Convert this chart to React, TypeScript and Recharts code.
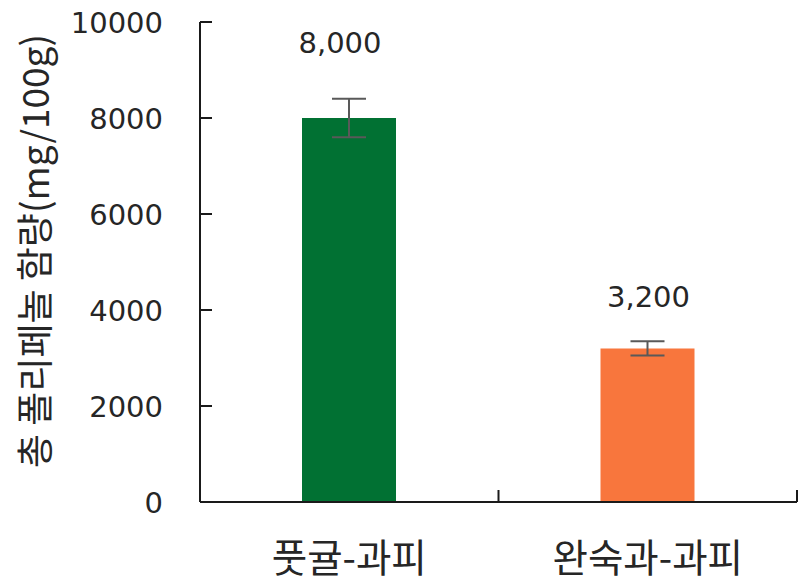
import React from "react";
import { BarChart, Bar, XAxis, YAxis, ErrorBar, LabelList, Cell } from "recharts";

const categories = ["풋귤-과피", "완숙과-과피"];
const values = [8000, 3200];
const errors = [400, 150];
const valueLabels = ["8,000", "3,200"];
const yTicks = [0, 2000, 4000, 6000, 8000, 10000];
const yTitle = "총 폴리페놀 함량(mg/100g)";
const colors = ["#017133", "#F8763D"];

const data = categories.map((name, i) => ({
  name,
  value: values[i],
  err: errors[i],
  label: valueLabels[i],
}));

const FONT = "'Noto Sans CJK KR', 'Noto Sans', sans-serif";
const NUMFONT = "'DejaVu Sans', sans-serif";
const AXIS = "#1a1a1a";
const TEXT = "#262626";

const YTick = (props: any) => {
  const { x, y, payload } = props;
  const axisX = x + 38;
  return (
    <g>
      <line x1={axisX} x2={axisX + 12} y1={y} y2={y} stroke={AXIS} strokeWidth={2} />
      <text x={x + 1} y={y} dy={11} textAnchor="end" fontSize={29} fill={TEXT} fontFamily={NUMFONT}>
        {payload.value}
      </text>
    </g>
  );
};

const XTick = (props: any) => {
  const { x, y, payload, index } = props;
  const band = 298.5;
  const axisY = y;
  return (
    <g>
      {index === 0 && (
        <line x1={x - band / 2} x2={x - band / 2} y1={axisY} y2={axisY - 12} stroke={AXIS} strokeWidth={2} />
      )}
      <line x1={x + band / 2} x2={x + band / 2} y1={axisY} y2={axisY - 12} stroke={AXIS} strokeWidth={2} />
      <text x={x} y={axisY + 70} textAnchor="middle" fontSize={38.5} fill={TEXT} fontFamily={FONT}>
        {payload.value}
      </text>
    </g>
  );
};

const ValueLabel = (props: any) => {
  const { x, y, width, value, index } = props;
  const offsets = [65, 41];
  const shifts = [-9, 1];
  return (
    <text
      x={x + width / 2 + shifts[index]}
      y={y - offsets[index]}
      textAnchor="middle"
      fontSize={29}
      fill={TEXT}
      fontFamily={NUMFONT}
    >
      {value}
    </text>
  );
};

const YTitle = (props: any) => {
  const { viewBox } = props;
  const cx = 33;
  const cy = viewBox.y + viewBox.height / 2 - 11;
  return (
    <text
      x={cx}
      y={cy}
      transform={`rotate(-90, ${cx}, ${cy})`}
      textAnchor="middle"
      dominantBaseline="central"
      fontSize={37}
      fill={TEXT}
      fontFamily={FONT}
    >
      {yTitle}
    </text>
  );
};

export default function App() {
  return (
    <div style={{ position: "absolute", left: 0, top: 0, background: "#fff" }}>
      <BarChart
        width={799}
        height={584}
        data={data}
        margin={{ top: 22, right: 2, left: 0, bottom: 0 }}
      >
        <XAxis
          dataKey="name"
          height={82}
          axisLine={{ stroke: AXIS, strokeWidth: 2 }}
          tickLine={false}
          tickSize={0}
          tickMargin={0}
          tick={<XTick />}
          interval={0}
        />
        <YAxis
          width={200}
          domain={[0, 10000]}
          ticks={yTicks}
          axisLine={{ stroke: AXIS, strokeWidth: 2 }}
          tickLine={false}
          tickSize={0}
          tickMargin={38}
          tick={<YTick />}
          label={<YTitle />}
        />
        <Bar dataKey="value" barSize={94} isAnimationActive={false}>
          {data.map((d, i) => (
            <Cell key={d.name} fill={colors[i]} />
          ))}
          <ErrorBar dataKey="err" width={17} stroke="#595959" strokeWidth={2} />
          <LabelList dataKey="label" content={<ValueLabel />} />
        </Bar>
      </BarChart>
    </div>
  );
}
